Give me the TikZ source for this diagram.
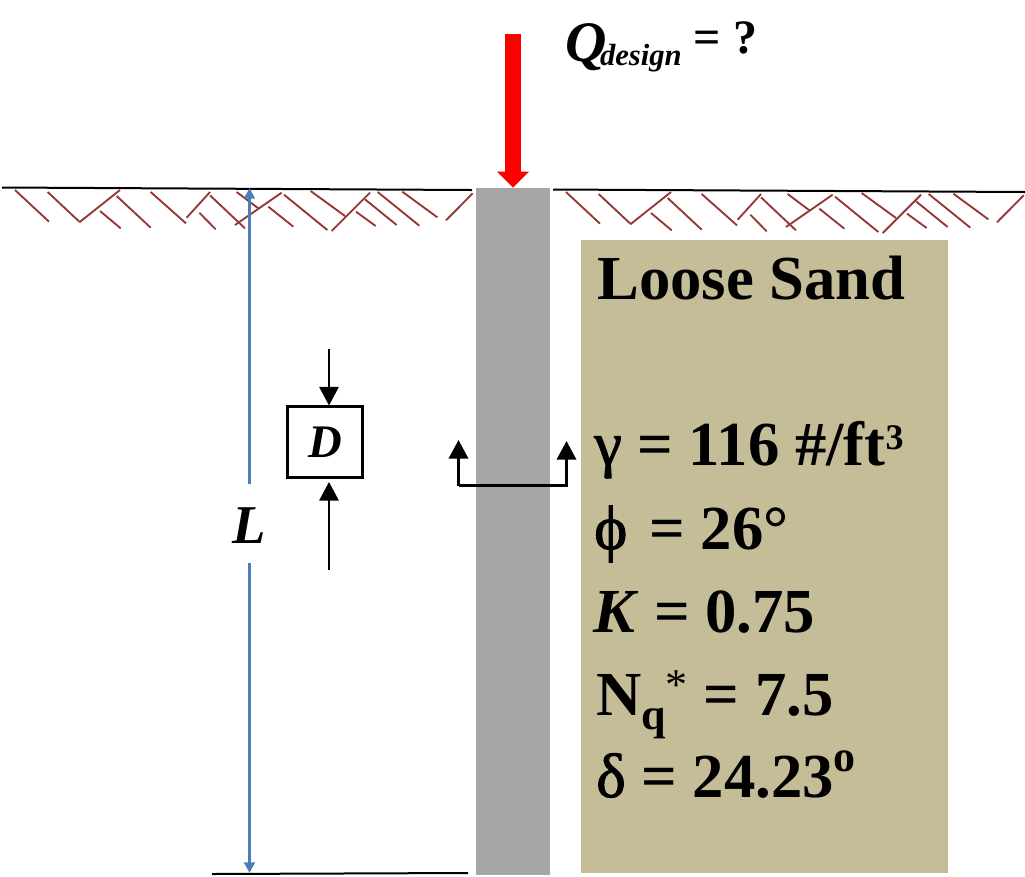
\documentclass[tikz,border=0pt]{standalone}
\usepackage{fontspec}
\setmainfont{Liberation Serif}
\newfontfamily\greekfont[FakeBold=1.5]{Liberation Serif}
\usetikzlibrary{arrows.meta}
\definecolor{hatchred}{HTML}{953735}
\definecolor{dimblue}{HTML}{4A7EBB}
\definecolor{pilegray}{HTML}{A6A6A6}
\definecolor{sandtan}{HTML}{C4BD97}
\tikzset{
  soiltext/.style={anchor=base west,inner sep=0pt,font=\fontsize{47}{47}\selectfont\bfseries},
  blocktip/.style={-{Triangle[width=14.5pt,length=14pt]}},
  dimtip/.style={-{Triangle[width=8pt,length=8pt]},dimblue,line width=2pt},
  hatch/.style={hatchred,line width=1.4pt},
  groundline/.style={line width=1.5pt}
}
\newcommand{\hatchrow}{%
  \foreach \xa/\ya/\xb/\yb in {45/60/147/155,143/66/238/155,238/157/360/60,300/123/362/175,
    350/78/452/173,452/66/558/160,560/143/630/66,598/128/647/178,630/76/735/175,
    710/66/775/115,705/165/845/68,805/110/880/170,852/74/982/180,932/63/1035/138,
    995/183/1110/68,1095/88/1190/165,1068/125/1127/168,1133/66/1258/167,
    1207/65/1312/142,1338/151/1418/70}
    \draw[hatch] ({\xa/3},{170+\ya/3}) -- ({\xb/3},{170+\yb/3});%
}
\begin{document}
\begin{tikzpicture}[x=0.75pt,y=-0.75pt]
  \useasboundingbox (0,0) rectangle (1025,876);
  % Soil and pile
  \node[fill=sandtan,minimum width=275.25pt,minimum height=474.75pt,inner sep=0pt] (sand) at (764.5,556.5) {};
  \node[fill=pilegray,minimum width=55.5pt,minimum height=515.25pt,inner sep=0pt] (pile) at (513,531.5) {};
  %
  % Ground lines
  \coordinate (gl1) at (2,187.5);
  \coordinate (gl2) at (472,190);
  \coordinate (gr1) at (553,189.5);
  \coordinate (gr2) at (1025,192);
  \coordinate (tl1) at (212,874);
  \coordinate (tl2) at (468,873);
  \draw[groundline] (gl1) -- (gl2);
  \draw[groundline] (gr1) -- (gr2);
  \draw[groundline] (tl1) -- (tl2);
  \hatchrow
  \begin{scope}[shift={(551,2)}]
    \hatchrow
  \end{scope}
  %
  % Load
  \coordinate (loadtop) at (513,34);
  \draw[-{Triangle[width=23pt,length=12pt]},red,line width=11.7pt] (loadtop) -- (pile.north);
  \node[anchor=base west,inner sep=0pt,font=\bfseries\itshape] (qload) at (565,61)
    {\fontsize{43}{43}\selectfont Q\kern-5pt\fontsize{23}{23}\selectfont\raisebox{-3pt}{design}\fontsize{36}{36}\selectfont\upshape\ \raisebox{6pt}{= ?}};
  %
  % Length
  \node[inner sep=0pt,font=\fontsize{41}{41}\selectfont\bfseries\itshape] (lenlabel) at (249,526) {L};
  \coordinate (lentop) at (249.5,188);
  \coordinate (lenbot) at (249.5,873);
  \coordinate (lengap1) at (249.5,484);
  \coordinate (lengap2) at (249.5,563);
  \draw[dimtip] (lengap1) -- (lentop);
  \draw[dimtip] (lengap2) -- (lenbot);
  %
  % Diameter
  \node[draw,line width=2.25pt,minimum width=56.25pt,minimum height=53pt,inner sep=0pt,font=\fontsize{35}{35}\selectfont\bfseries\itshape] (dbox) at (325,442.3) {\raisebox{-2pt}{D}};
  \coordinate (dtop) at (329,349);
  \coordinate (dbot) at (329,570);
  \coordinate (dbotend) at (329,482);
  \draw[blocktip,line width=1.7pt] (dtop) -- (dtop |- dbox.north);
  \draw[blocktip,line width=1.7pt] (dbot) -- (dbotend);
  %
  % Pile section mark
  \coordinate (secl) at (458.5,440);
  \coordinate (secr) at (566.5,441);
  \coordinate (secy) at (458.5,485.5);
  \draw[blocktip,line width=2pt] (secy) -- (secl);
  \draw[blocktip,line width=2pt] (secy) -- (secy -| secr) -- (secr);
  %
  % Soil data
  \node[soiltext] (soilname) at (597,299) {Loose Sand};
  \node[soiltext] (gamma) at (594,465) {{\greekfont\mdseries γ} = 116 \#/ft\raisebox{12pt}{\fontsize{27}{27}\selectfont 3}};
  \node[soiltext] (phi) at (594,549) {{\greekfont\mdseries ϕ}\kern5pt\ = 26°};
  \node[soiltext] (kval) at (593,632) {\textit{K} = 0.75};
  \node[soiltext] (nq) at (596,715) {N\raisebox{-10.5pt}{\fontsize{33}{33}\selectfont q}\raisebox{12pt}{\fontsize{33}{33}\selectfont\mdseries *} = 7.5};
  \node[soiltext] (delta) at (596,797) {{\greekfont\mdseries δ} = 24.23\raisebox{19pt}{\fontsize{33}{33}\selectfont o}};
\end{tikzpicture}
\end{document}
